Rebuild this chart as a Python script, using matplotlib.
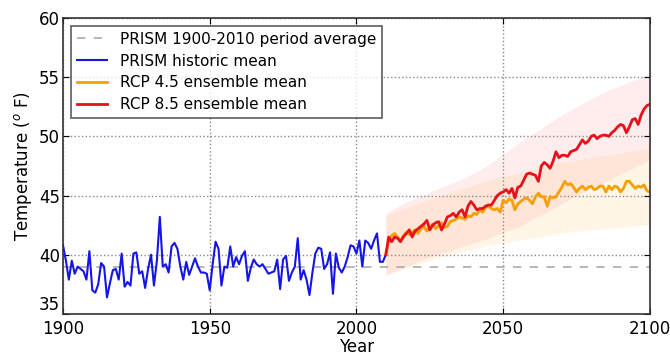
import numpy as np
import matplotlib.pyplot as plt

# PRISM historic annual mean, 1900-2010
hist_years = np.arange(1900, 2011)
hist_temp = [40.8, 39.5, 37.9, 39.5, 38.4, 39.0, 38.8, 38.6, 37.9, 40.3,
             37.0, 36.8, 37.5, 39.3, 39.0, 36.4, 37.6, 38.7, 38.8, 37.9,
             40.1, 37.3, 37.7, 37.4, 40.1, 40.2, 38.4, 38.6, 37.2, 38.8,
             40.0, 37.4, 39.5, 43.2, 39.0, 39.2, 38.5, 40.7, 41.0, 40.5,
             39.0, 37.9, 39.4, 38.3, 39.0, 39.7, 39.0, 38.5, 38.5, 38.4,
             37.0, 39.2, 41.1, 40.5, 37.4, 39.0, 38.9, 40.7, 39.0, 39.8,
             39.2, 39.9, 40.3, 37.8, 38.9, 39.6, 39.2, 39.0, 39.2, 38.8,
             38.4, 38.5, 38.6, 39.6, 37.1, 39.6, 39.9, 37.8, 38.5, 39.0,
             41.4, 37.9, 38.7, 37.9, 36.6, 38.5, 40.1, 40.6, 40.5, 38.8,
             39.2, 40.2, 36.7, 40.1, 38.9, 38.5, 39.0, 39.8, 40.8, 40.7,
             40.1, 41.2, 39.0, 41.2, 41.0, 40.5, 41.2, 41.8, 39.4, 39.4,
             40.0]
period_avg = 39.0

# ensemble means, 2010-2100
proj_years = np.arange(2010, 2101)
rcp85 = [40.0, 41.5, 41.1, 41.5, 41.4, 41.1, 41.5, 41.8, 42.1, 41.5,
         42.0, 42.2, 42.4, 42.6, 42.9, 42.1, 42.5, 42.7, 42.8, 42.1,
         42.6, 43.2, 43.3, 43.5, 43.2, 43.6, 43.8, 43.2, 44.1, 44.5,
         44.2, 43.8, 43.9, 43.9, 44.1, 44.2, 44.2, 44.6, 45.0, 45.2,
         45.3, 45.5, 45.2, 45.6, 44.8, 45.7, 45.8, 46.3, 46.8, 46.9,
         46.8, 46.7, 46.2, 47.5, 47.8, 47.6, 47.3, 47.9, 48.7, 48.2,
         48.4, 48.4, 48.3, 48.7, 48.8, 48.9, 49.3, 49.7, 49.4, 49.6,
         50.0, 50.1, 49.8, 50.0, 50.1, 50.1, 50.0, 50.3, 50.5, 50.8,
         51.0, 50.9, 50.3, 50.8, 51.4, 51.5, 51.0, 51.8, 52.3, 52.6,
         52.7]
rcp45 = [40.0, 41.2, 41.6, 41.8, 41.5, 41.2, 41.6, 41.9, 41.7, 41.9,
         42.1, 41.8, 42.2, 42.4, 42.0, 42.3, 42.6, 42.2, 42.5, 42.7,
         42.3, 42.4, 42.8, 42.9, 43.0, 43.2, 43.1, 43.0, 43.3, 43.2,
         43.5, 43.4, 43.8, 43.6, 44.0, 44.1, 43.9, 43.8, 43.9, 43.6,
         44.6, 44.4, 44.7, 44.6, 43.8, 44.3, 44.5, 44.7, 44.8, 44.6,
         44.3, 44.9, 45.2, 44.9, 44.9, 44.1, 44.9, 44.8, 44.9, 45.3,
         45.7, 46.2, 45.9, 46.0, 45.7, 45.3, 45.6, 45.8, 45.5, 45.7,
         45.8, 45.5, 45.6, 45.8, 45.8, 45.3, 45.8, 45.5, 45.8, 45.7,
         45.3, 45.6, 46.2, 46.2, 45.9, 45.6, 45.8, 45.7, 45.9, 45.4,
         45.3]

# rough spread of the individual ensemble members, every 5 years
band_years = np.arange(2010, 2101, 5)
rcp85_lo = [38.3, 38.8, 39.3, 39.8, 40.2, 40.6, 41.0, 41.4, 41.9, 42.3,
            43.0, 43.6, 44.3, 45.0, 45.6, 46.2, 46.8, 47.4, 48.0]
rcp85_hi = [43.5, 44.2, 44.8, 45.3, 45.8, 46.3, 46.9, 47.6, 48.5, 49.4,
            50.2, 51.0, 51.8, 52.5, 53.2, 53.8, 54.3, 54.8, 55.2]
rcp45_lo = [38.3, 38.7, 39.1, 39.5, 39.9, 40.2, 40.5, 40.8, 41.0, 41.2,
            41.4, 41.6, 41.8, 42.0, 42.1, 42.2, 42.3, 42.4, 42.5]
rcp45_hi = [43.3, 43.8, 44.3, 44.7, 45.1, 45.5, 45.9, 46.3, 46.6, 46.9,
            47.2, 47.5, 47.8, 48.0, 48.2, 48.4, 48.6, 48.8, 49.0]

plt.rcParams['font.family'] = 'DejaVu Sans'
fig = plt.figure(figsize=(6.7, 3.58), dpi=100)
ax = fig.add_axes([0.094, 0.123, 0.876, 0.827])

ax.fill_between(band_years, rcp45_lo, rcp45_hi, color='#ffc04d', alpha=0.13, lw=0)
ax.fill_between(band_years, rcp85_lo, rcp85_hi, color='#ff7070', alpha=0.12, lw=0)

ax.plot([1900, 2100], [period_avg, period_avg], color='#aaaaaa', ls='--', lw=1.2,
        dashes=(5, 5), label='PRISM 1900-2010 period average')
ax.plot(hist_years, hist_temp, color='#1515e6', lw=1.5, label='PRISM historic mean')
ax.plot(proj_years, rcp45, color='#f4a000', lw=2, label='RCP 4.5 ensemble mean')
ax.plot(proj_years, rcp85, color='#e8101a', lw=2, label='RCP 8.5 ensemble mean')

ax.set_xlim(1900, 2100)
ax.set_ylim(35, 60)
ax.set_xticks([1900, 1950, 2000, 2050, 2100])
ax.set_yticks([35, 40, 45, 50, 55, 60])
ax.tick_params(direction='in', labelsize=12, length=4, top=True, right=True, pad=2)
ax.tick_params(axis='x', pad=4)
ax.grid(True, ls=':', color='#888888', lw=1)
for s in ax.spines.values():
    s.set_color('#333333')
    s.set_linewidth(1.2)

# lowest y label sits just above the 1900 label, as in the original
fig.canvas.draw()
ax.get_yticklabels()[0].set_va('bottom')

ax.set_xlabel('Year', fontsize=12, labelpad=0)
ax.set_ylabel('Temperature ($^o$ F)', fontsize=12, labelpad=4)

leg = ax.legend(loc='upper left', fontsize=11, frameon=True, fancybox=False,
                borderaxespad=0.5, handlelength=2.0, labelspacing=0.45)
leg.get_frame().set_edgecolor('#333333')
leg.get_frame().set_linewidth(1.2)

fig.savefig('out.png', dpi=100)
